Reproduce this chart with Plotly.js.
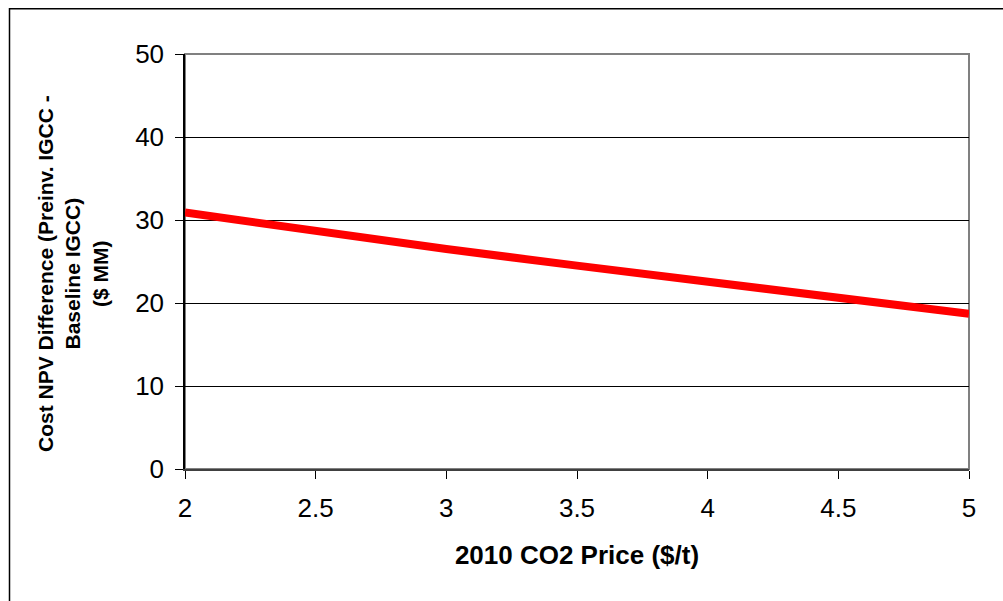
<!DOCTYPE html>
<html>
<head>
<meta charset="utf-8">
<script src="https://cdn.plot.ly/plotly-3.0.1.min.js"></script>
<style>
html,body{margin:0;padding:0;background:#fff;}
#chart{width:1003px;height:601px;}
</style>
</head>
<body>
<div id="chart"></div>
<script>
var co2Price = [2, 2.5, 3, 3.5, 4, 4.5, 5];
var npvDifference = [30.9, 28.6, 26.5, 24.5, 22.5, 20.6, 18.7];
var xTitle = "2010 CO2 Price ($/t)";
var yTitle = "Cost NPV Difference (Preinv. IGCC -<br>Baseline IGCC)<br>($ MM)";

var L = 185, R = 969, T = 54, B = 469, W = 1003, H = 601;
var pw = R - L, ph = B - T;
function px(x){ return (x - L) / pw; }
function py(y){ return (B - y) / ph; }

var trace = {
  x: co2Price,
  y: npvDifference,
  type: 'scatter',
  mode: 'lines',
  line: {color: '#FF0000', width: 8},
  hoverinfo: 'x+y',
  showlegend: false
};

var layout = {
  width: W, height: H,
  margin: {l: L, r: W - R, t: T, b: H - B, pad: 0},
  paper_bgcolor: '#ffffff',
  plot_bgcolor: '#ffffff',
  font: {family: '"Liberation Sans", Arial, sans-serif', color: '#000'},
  showlegend: false,
  xaxis: {
    range: [2, 5], dtick: 0.5, tick0: 2,
    showgrid: false, zeroline: false,
    showline: true, linecolor: '#404040', linewidth: 2,
    ticks: 'outside', ticklen: 8, tickcolor: '#000', tickwidth: 1,
    tickfont: {size: 26, color: '#000'},
    ticklabelstandoff: 7,
    title: {text: xTitle, font: {size: 26, color: '#000', weight: 'bold'}, standoff: 24},
    automargin: false
  },
  yaxis: {
    range: [0, 50], dtick: 10, tick0: 0,
    showgrid: true, gridcolor: '#000', gridwidth: 1,
    zeroline: false,
    showline: true, linecolor: '#000', linewidth: 1.5,
    ticks: 'outside', ticklen: 8, tickcolor: '#000', tickwidth: 1,
    tickfont: {size: 26, color: '#000'},
    ticklabelstandoff: 6,
    automargin: false
  },
  annotations: [
    {text: yTitle, xref: 'paper', yref: 'paper', x: px(73), y: py(274),
     xanchor: 'center', yanchor: 'middle', textangle: -90, showarrow: false,
     align: 'center', font: {size: 21, color: '#000', weight: 'bold'}}
  ],
  shapes: [
    {type: 'rect', xref: 'paper', yref: 'paper', x0: 0, x1: 1, y0: 0, y1: 1,
     line: {color: '#808080', width: 2}, fillcolor: 'rgba(0,0,0,0)', layer: 'below'},
    {type: 'rect', xref: 'paper', yref: 'paper',
     x0: px(9.5), x1: px(1010), y0: py(610), y1: py(8.75),
     line: {color: '#000', width: 1.5}, fillcolor: 'rgba(0,0,0,0)', layer: 'below'}
  ]
};

Plotly.newPlot('chart', [trace], layout, {displayModeBar: false, staticPlot: false});
</script>
</body>
</html>
